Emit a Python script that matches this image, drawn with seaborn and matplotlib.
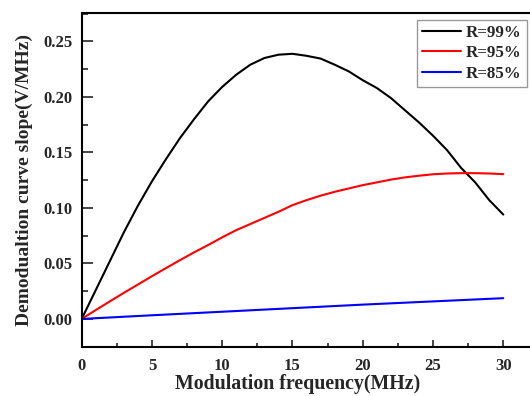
import numpy as np
import pandas as pd
import matplotlib
matplotlib.use("Agg")
import matplotlib.pyplot as plt
import seaborn as sns
from matplotlib.ticker import MultipleLocator

# ---- data ----
x_black = list(range(0, 31))
y_black = [0.000, 0.026, 0.052, 0.078, 0.102, 0.124, 0.144, 0.163, 0.180, 0.196,
           0.209, 0.220, 0.229, 0.235, 0.238, 0.2388, 0.237, 0.2345, 0.229, 0.223,
           0.215, 0.208, 0.199, 0.188, 0.177, 0.165, 0.152, 0.136, 0.123, 0.107, 0.094]
x_red = list(range(0, 31))
y_red = [0.000, 0.008, 0.0158, 0.0235, 0.031, 0.0385, 0.0458, 0.053, 0.060, 0.0666,
         0.0735, 0.080, 0.0855, 0.091, 0.0965, 0.1025, 0.107, 0.111, 0.1145, 0.1175,
         0.1205, 0.123, 0.1255, 0.1275, 0.129, 0.1303, 0.131, 0.1313, 0.1313, 0.131, 0.1304]
x_blue = [0, 5, 10, 15, 20, 25, 30]
y_blue = [0.000, 0.0033, 0.0065, 0.0097, 0.0129, 0.0158, 0.0187]
labels = ["R=99%", "R=95%", "R=85%"]
colors = ["black", "red", "blue"]
xlabel = "Modulation frequency(MHz)"
ylabel = "Demodualtion curve slope(V/MHz)"

df = pd.concat([
    pd.DataFrame({"x": x_black, "y": y_black, "R": labels[0]}),
    pd.DataFrame({"x": x_red, "y": y_red, "R": labels[1]}),
    pd.DataFrame({"x": x_blue, "y": y_blue, "R": labels[2]}),
], ignore_index=True)

sns.set_theme(style="ticks")
plt.rcParams["font.family"] = ["Liberation Serif", "DejaVu Serif"]
plt.rcParams["font.weight"] = "bold"

W, H = 530, 396
fig = plt.figure(figsize=(W / 100, H / 100), dpi=100)
left, right, top, bottom = 81.7, 530, 12.5, 346.7
ax = fig.add_axes([left / W, 1 - bottom / H, (right - left) / W, (bottom - top) / H])

sns.lineplot(data=df, x="x", y="y", hue="R", palette=dict(zip(labels, colors)),
             hue_order=labels, linewidth=1.5, ax=ax, legend=False, sort=False)

ax.set_xlim(0, 31.9)
ax.set_ylim(-0.025, 0.276)
ax.xaxis.set_minor_locator(MultipleLocator(2.5))
ax.yaxis.set_minor_locator(MultipleLocator(0.025))
ax.set_xticks([0, 5, 10, 15, 20, 25, 30])
ax.set_yticks([0.0, 0.05, 0.10, 0.15, 0.20, 0.25])
ax.set_yticklabels(["0.00", "0.05", "0.10", "0.15", "0.20", "0.25"])

ax.tick_params(axis="x", which="major", direction="in", length=5, width=1.2,
               pad=8, labelsize=12)
ax.tick_params(axis="x", which="minor", direction="in", length=3, width=1.2)
ax.tick_params(axis="y", which="major", direction="in", length=8, width=1.2,
               pad=6.5, labelsize=12)
ax.tick_params(axis="y", which="minor", direction="in", length=4, width=1.2)
for lab in ax.get_xticklabels() + ax.get_yticklabels():
    lab.set_fontweight("bold")

for s in ["left", "bottom", "top"]:
    ax.spines[s].set_linewidth(1.5)
    ax.spines[s].set_color("black")
ax.spines["right"].set_visible(False)

ax.set_xlabel(xlabel, fontsize=14.3, fontweight="bold")
ax.set_ylabel(ylabel, fontsize=14, fontweight="bold")
ax.xaxis.set_label_coords(0.4825, -0.083)
ax.yaxis.set_label_coords(-0.1086, 0.5)

handles = [plt.Line2D([], [], color=c, lw=1.5) for c in colors]
leg = fig.legend(handles, labels, loc="upper left",
                 bbox_to_anchor=(416.7 / W, 1 - 20 / H),
                 prop={"family": ["Liberation Serif"], "weight": "bold", "size": 12.2},
                 frameon=True, fancybox=False, handlelength=2.3, handletextpad=0.3,
                 borderpad=0.3, labelspacing=0.25, borderaxespad=0)
leg.get_frame().set_edgecolor("#808080")
leg.get_frame().set_linewidth(1.0)

fig.savefig("out.png", dpi=100)
